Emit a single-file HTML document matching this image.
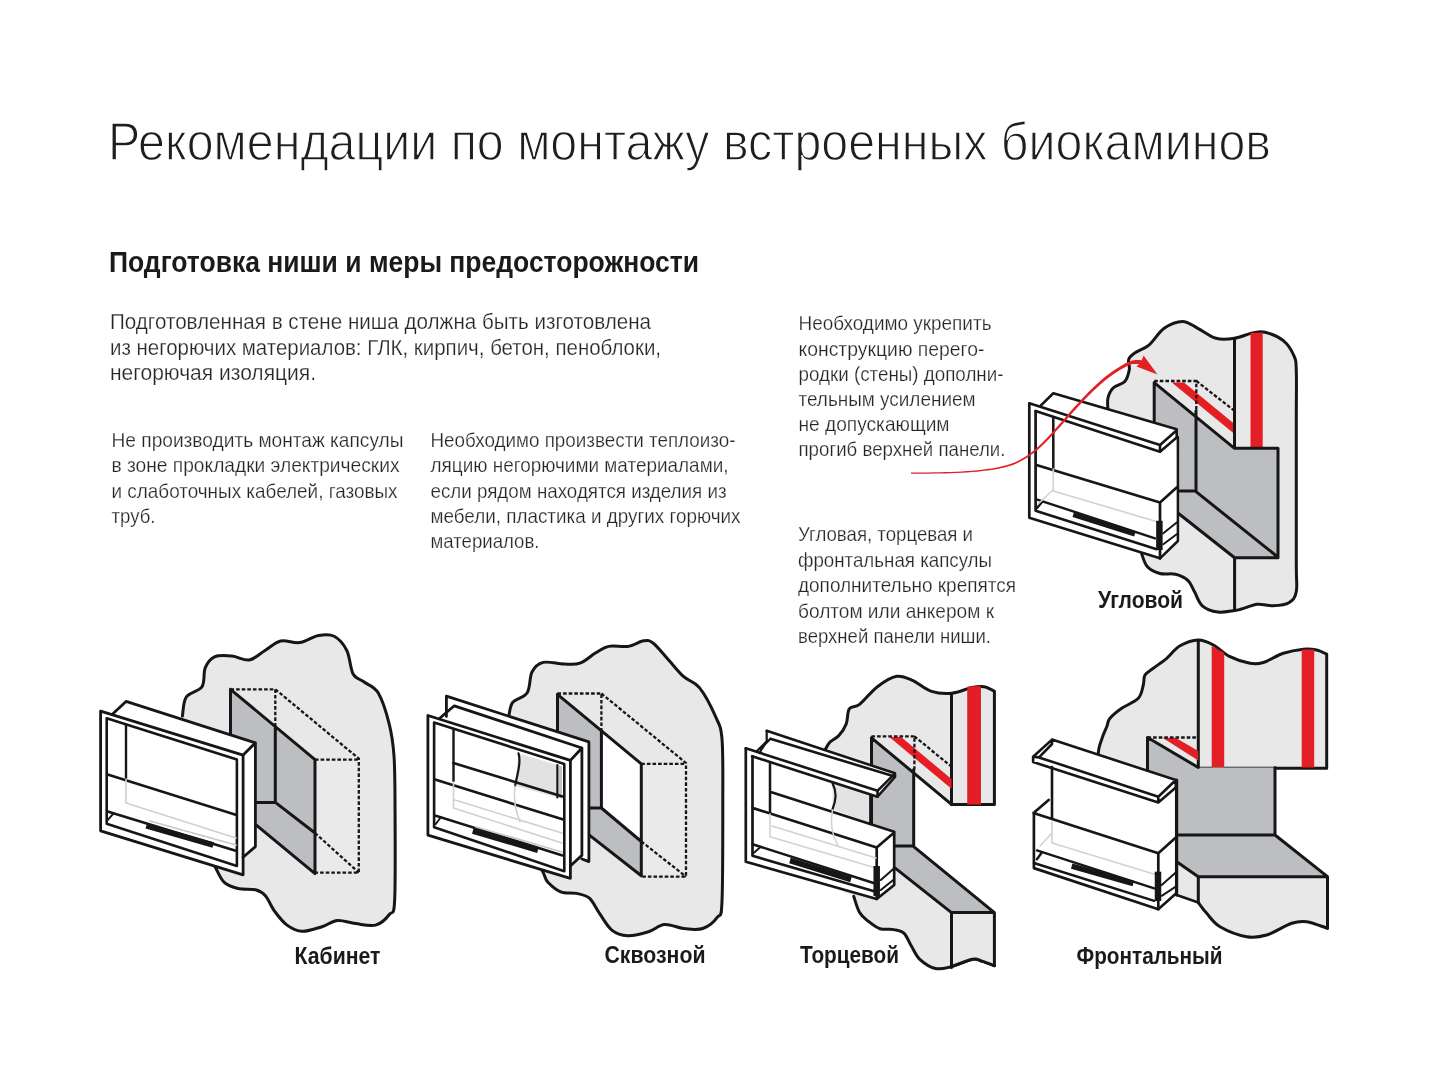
<!DOCTYPE html>
<html lang="ru">
<head>
<meta charset="utf-8">
<style>
html,body{margin:0;padding:0;background:#fff;}
body{width:1440px;height:1080px;overflow:hidden;position:relative;}
svg{position:absolute;left:0;top:0;}
.t{font-family:"Liberation Sans",sans-serif;}
#text{filter:grayscale(1);}
.title{font-size:53.5px;fill:#1e1e1e;stroke:#fff;stroke-width:1.3px;paint-order:normal;}
.sub{font-size:30px;font-weight:bold;fill:#1a1a1a;}
.p{font-size:21px;fill:#262626;stroke:#fff;stroke-width:0.25px;}
.p1{font-size:22.5px;}
.lab{font-size:24px;font-weight:bold;fill:#1a1a1a;}
</style>
</head>
<body>
<svg width="1440" height="1080" viewBox="0 0 1440 1080">
<g id="art">
<path d="M182.4,716 C183.1,712.8 183,701.9 186.3,697 C189.6,692.1 198.8,691.6 202,686.7 C205.2,681.8 203.1,672.8 205.2,667.8 C207.3,662.8 210.1,658.8 214.6,656.8 C219.1,654.8 226.2,655.5 232,656 C237.8,656.5 243.7,660.9 249.2,660 C254.7,659.1 259.8,653.7 265,650.5 C270.2,647.3 274.9,642.3 280.7,641 C286.5,639.7 293.3,643.5 299.6,642.6 C305.9,641.7 312.7,636.5 318.5,635.5 C324.3,634.5 329.5,633.8 334.2,636.3 C338.9,638.8 343.6,644.2 346.8,650.5 C350,656.8 350.2,668.8 353.1,674 C356,679.2 359.9,678.8 364.1,682 C368.3,685.2 374.1,685.9 378.3,693 C382.5,700.1 386.7,713.9 389.3,724.4 C391.9,734.9 393.1,743.4 394,756 C394.9,768.6 394.9,776.1 395,800 C395.1,823.9 395.6,880.1 394.7,899.2 C393.8,918.3 392.5,910.2 389.3,914.5 C386.1,918.8 381.2,923.6 375.6,925.1 C370,926.6 362.1,924.4 355.7,923.6 C349.3,922.9 343,920.1 337.4,920.6 C331.8,921.1 327.9,924.9 322,926.7 C316.1,928.5 308,931.6 302.2,931.3 C296.4,931 291.6,928.4 287,925.1 C282.4,921.8 278.3,916.2 274.7,911.4 C271.1,906.6 268.7,899.7 265.6,896.1 C262.6,892.5 261,891.3 256.4,890 C251.8,888.7 243.3,889.8 238,888.5 C232.7,887.2 227.9,885.5 224.3,882.4 C220.8,879.3 218.8,873.8 216.7,870.1 C214.6,866.4 212.8,861.7 212,860 L170,850 L170,730 Z" fill="#e8e8e8"/>
<path d="M182.4,716 C183.1,712.8 183,701.9 186.3,697 C189.6,692.1 198.8,691.6 202,686.7 C205.2,681.8 203.1,672.8 205.2,667.8 C207.3,662.8 210.1,658.8 214.6,656.8 C219.1,654.8 226.2,655.5 232,656 C237.8,656.5 243.7,660.9 249.2,660 C254.7,659.1 259.8,653.7 265,650.5 C270.2,647.3 274.9,642.3 280.7,641 C286.5,639.7 293.3,643.5 299.6,642.6 C305.9,641.7 312.7,636.5 318.5,635.5 C324.3,634.5 329.5,633.8 334.2,636.3 C338.9,638.8 343.6,644.2 346.8,650.5 C350,656.8 350.2,668.8 353.1,674 C356,679.2 359.9,678.8 364.1,682 C368.3,685.2 374.1,685.9 378.3,693 C382.5,700.1 386.7,713.9 389.3,724.4 C391.9,734.9 393.1,743.4 394,756 C394.9,768.6 394.9,776.1 395,800 C395.1,823.9 395.6,880.1 394.7,899.2 C393.8,918.3 392.5,910.2 389.3,914.5 C386.1,918.8 381.2,923.6 375.6,925.1 C370,926.6 362.1,924.4 355.7,923.6 C349.3,922.9 343,920.1 337.4,920.6 C331.8,921.1 327.9,924.9 322,926.7 C316.1,928.5 308,931.6 302.2,931.3 C296.4,931 291.6,928.4 287,925.1 C282.4,921.8 278.3,916.2 274.7,911.4 C271.1,906.6 268.7,899.7 265.6,896.1 C262.6,892.5 261,891.3 256.4,890 C251.8,888.7 243.3,889.8 238,888.5 C232.7,887.2 227.9,885.5 224.3,882.4 C220.8,879.3 218.8,873.8 216.7,870.1 C214.6,866.4 212.8,861.7 212,860" fill="none" stroke="#161616" stroke-width="3" stroke-linejoin="round" stroke-linecap="round"/>
<path d="M230.5,689.3 L315,759.6 L315,873.6 L256,824.8 L256,802.4 L230.5,802.4 Z" fill="#bdbec1"/>
<path d="M315,759.6 L358.8,758.6 L358.8,872.6 L315,873.6 Z" fill="#eaeaea"/>
<path d="M230.5,689.3 V802 M230.5,689.3 L315,759.6 V873.6 M275.3,728 V802.4 H256 M275.3,802.4 L315,833 M256,824.8 L315,873.6" fill="none" stroke="#161616" stroke-width="3" stroke-linejoin="round" stroke-linecap="round"/>
<path d="M230.5,689.3 H275.3 V728 M275.3,689.3 L358.8,758.6 V872.6 H315 M315,759.6 H358.8 M315,833 L358.8,872.6" fill="none" stroke="#161616" stroke-width="2.3" stroke-dasharray="3.6 2"/>
<path d="M100.6,711.1 L126,701.4 L255.4,742.8 L255.4,846.6 L243.1,857.2 L243.1,874.8 L100.6,830.8 Z" fill="#ffffff"/>
<path d="M112.9,713.8 L126,701.4 L255.4,742.8 V846.6 L243.1,857.2 M255.4,742.8 L243.1,755.1" fill="none" stroke="#161616" stroke-width="2.8" stroke-linejoin="round" stroke-linecap="round"/>
<path d="M100.6,711.1 L243.1,755.1 L243.1,874.8 L100.6,830.8 Z" fill="none" stroke="#161616" stroke-width="2.8" stroke-linejoin="round" stroke-linecap="round"/>
<path d="M106.7,718.2 L236.9,759.5 L236.9,866 L106.7,823.7 Z" fill="none" stroke="#161616" stroke-width="2.6" stroke-linejoin="round" stroke-linecap="round"/>
<path d="M126,725 V778" fill="none" stroke="#161616" stroke-width="2.4" stroke-linejoin="round" stroke-linecap="round"/>
<path d="M107.6,774.5 L236.5,815" fill="none" stroke="#161616" stroke-width="2.6" stroke-linejoin="round" stroke-linecap="round"/>
<path d="M107.6,811.4 L236.5,851" fill="none" stroke="#161616" stroke-width="2.6" stroke-linejoin="round" stroke-linecap="round"/>
<path d="M107.6,820.2 L113.8,813.2" fill="none" stroke="#161616" stroke-width="2" stroke-linejoin="round" stroke-linecap="round"/>
<path d="M126,779 V803 L236,838" fill="none" stroke="#cfcfcf" stroke-width="1.6" stroke-linejoin="round" stroke-linecap="round"/>
<path d="M150,821 L236,845" fill="none" stroke="#c8c8c8" stroke-width="1.8" stroke-linejoin="round" stroke-linecap="round"/>
<path d="M146.3,825.8 L213.2,845" fill="none" stroke="#161616" stroke-width="5.5" stroke-linejoin="round" stroke-linecap="butt"/>
<path d="M508.8,716 C509.5,713.7 509.7,706.2 512.8,702.3 C515.9,698.4 524,697.8 527.2,692.7 C530.4,687.7 529.4,677 532,672 C534.6,667 537.8,663.7 543.1,662.4 C548.4,661.1 557.8,663.9 563.9,664 C570,664.1 574.6,665.1 579.9,663.2 C585.2,661.3 591,655.6 595.8,652.8 C600.6,650 603.3,647.5 608.6,646.4 C613.9,645.3 621.9,647.3 627.8,646.4 C633.6,645.5 639.5,641.3 643.7,640.8 C648,640.3 649,639.9 653.3,643.2 C657.6,646.5 664.2,655.2 669.3,660.8 C674.4,666.4 678.7,672.2 683.7,676.7 C688.8,681.2 694.3,681.2 699.6,687.9 C704.9,694.6 711.9,708.2 715.6,716.7 C719.3,725.2 720.8,725.2 722,739 C723.2,752.8 722.8,772.6 722.8,799.7 C722.8,826.8 722.9,881.8 722,901.4 C721.1,921 720.4,912.9 717.2,917.4 C714,921.9 708.4,926.6 702.8,928.5 C697.2,930.4 690.1,929.2 683.7,928.5 C677.3,927.8 670.4,924 664.5,924.5 C658.6,925 654.6,929.8 648.5,931.7 C642.4,933.6 633.9,936 627.8,935.7 C621.7,935.4 616.6,934 611.8,930.1 C607,926.2 602.7,917.9 599,912.6 C595.3,907.3 593.1,901.4 589.4,898.2 C585.7,895 581.5,894.5 576.7,893.4 C571.9,892.3 565.5,893.7 560.7,891.8 C555.9,889.9 550.7,885.1 547.9,882.2 C545.1,879.3 545.2,876.9 543.9,874.2 C542.6,871.5 540.6,867.4 540,866 L500,850 L500,730 Z" fill="#e8e8e8"/>
<path d="M508.8,716 C509.5,713.7 509.7,706.2 512.8,702.3 C515.9,698.4 524,697.8 527.2,692.7 C530.4,687.7 529.4,677 532,672 C534.6,667 537.8,663.7 543.1,662.4 C548.4,661.1 557.8,663.9 563.9,664 C570,664.1 574.6,665.1 579.9,663.2 C585.2,661.3 591,655.6 595.8,652.8 C600.6,650 603.3,647.5 608.6,646.4 C613.9,645.3 621.9,647.3 627.8,646.4 C633.6,645.5 639.5,641.3 643.7,640.8 C648,640.3 649,639.9 653.3,643.2 C657.6,646.5 664.2,655.2 669.3,660.8 C674.4,666.4 678.7,672.2 683.7,676.7 C688.8,681.2 694.3,681.2 699.6,687.9 C704.9,694.6 711.9,708.2 715.6,716.7 C719.3,725.2 720.8,725.2 722,739 C723.2,752.8 722.8,772.6 722.8,799.7 C722.8,826.8 722.9,881.8 722,901.4 C721.1,921 720.4,912.9 717.2,917.4 C714,921.9 708.4,926.6 702.8,928.5 C697.2,930.4 690.1,929.2 683.7,928.5 C677.3,927.8 670.4,924 664.5,924.5 C658.6,925 654.6,929.8 648.5,931.7 C642.4,933.6 633.9,936 627.8,935.7 C621.7,935.4 616.6,934 611.8,930.1 C607,926.2 602.7,917.9 599,912.6 C595.3,907.3 593.1,901.4 589.4,898.2 C585.7,895 581.5,894.5 576.7,893.4 C571.9,892.3 565.5,893.7 560.7,891.8 C555.9,889.9 550.7,885.1 547.9,882.2 C545.1,879.3 545.2,876.9 543.9,874.2 C542.6,871.5 540.6,867.4 540,866" fill="none" stroke="#161616" stroke-width="3" stroke-linejoin="round" stroke-linecap="round"/>
<path d="M557.5,694.3 L601.4,730.7 L601.4,808 L589.4,808 L589.4,835.1 L641.3,875.8 L641.3,841.5 L601.4,808 L589,808 L557.5,808 Z" fill="#bdbec1"/>
<path d="M589.4,808 L601.4,808 L641.3,841.5 L641.3,875.8 L589.4,835.1 Z" fill="#bdbec1"/>
<path d="M601.4,730.7 L641.3,763.8 L641.3,841.5 L601.4,808 Z" fill="#ffffff"/>
<path d="M641.3,763.8 L686,763 L686,876.6 L641.3,875.8 Z" fill="#eaeaea"/>
<path d="M557.5,694.3 V780 M557.5,694.3 L641.3,763.8 V875.8 M601.4,730.7 V808 H589 M601.4,808 L641.3,841.5 M589.4,835.1 L641.3,875.8" fill="none" stroke="#161616" stroke-width="3" stroke-linejoin="round" stroke-linecap="round"/>
<path d="M557.5,693.5 H601.4 V730.7 M601.4,693.5 L686,763 V876.6 H641.3 M641.3,763.8 H686 M641.3,841.5 L686,876.6" fill="none" stroke="#161616" stroke-width="2.3" stroke-dasharray="3.6 2"/>
<path d="M446.4,696.2 L588.9,741.9 L588.9,861.6 L582,859 L570.4,868 L570.4,878.3 L427.9,835.2 L427.9,715.5 L446.4,716.4 Z" fill="#ffffff"/>
<path d="M446.4,716.4 V696.2 L588.9,741.9 V861.6 L582,859" fill="none" stroke="#161616" stroke-width="2.8" stroke-linejoin="round" stroke-linecap="round"/>
<path d="M440,718 L454.3,705.8 L581.9,748 V855.4 L570.4,866 M581.9,748 L570.4,760.4" fill="none" stroke="#161616" stroke-width="2.8" stroke-linejoin="round" stroke-linecap="round"/>
<path d="M427.9,715.5 L570.4,760.4 L570.4,878.3 L427.9,835.2 Z" fill="none" stroke="#161616" stroke-width="2.8" stroke-linejoin="round" stroke-linecap="round"/>
<path d="M434.1,722.6 L564.3,763.9 L564.3,871.2 L434.1,827.3 Z" fill="none" stroke="#161616" stroke-width="2.6" stroke-linejoin="round" stroke-linecap="round"/>
<path d="M518.5,753.3 L557.3,765 L557.3,797.5 L515,786 Z" fill="#e2e2e2"/>
<path d="M557.3,765 L562,766.3 L562,798.5 L557.3,797.5 Z" fill="#c4c4c4"/>
<path d="M453.5,730 V781" fill="none" stroke="#161616" stroke-width="2.4" stroke-linejoin="round" stroke-linecap="round"/>
<path d="M518.5,753.3 C521,762 518,772 515,786" fill="none" stroke="#161616" stroke-width="2.2" stroke-linejoin="round" stroke-linecap="round"/>
<path d="M557.3,765 V797.5" fill="none" stroke="#161616" stroke-width="2" stroke-linejoin="round" stroke-linecap="round"/>
<path d="M453.4,763 L562.5,796.5" fill="none" stroke="#161616" stroke-width="2.6" stroke-linejoin="round" stroke-linecap="round"/>
<path d="M435.8,779.7 L562.5,819.3" fill="none" stroke="#161616" stroke-width="2.6" stroke-linejoin="round" stroke-linecap="round"/>
<path d="M435.8,815.8 L562.5,855.4" fill="none" stroke="#161616" stroke-width="2.6" stroke-linejoin="round" stroke-linecap="round"/>
<path d="M435.8,824 L441,817" fill="none" stroke="#161616" stroke-width="2" stroke-linejoin="round" stroke-linecap="round"/>
<path d="M453.5,782 V808 L562,843 M455,800 L562,833" fill="none" stroke="#d0d0d0" stroke-width="1.6" stroke-linejoin="round" stroke-linecap="round"/>
<path d="M515,786 C513,800 516,812 520,822" fill="none" stroke="#d0d0d0" stroke-width="1.5" stroke-linejoin="round" stroke-linecap="round"/>
<path d="M476,827 L562,852" fill="none" stroke="#c8c8c8" stroke-width="1.8" stroke-linejoin="round" stroke-linecap="round"/>
<path d="M472.8,831 L537.9,850.3" fill="none" stroke="#161616" stroke-width="5.5" stroke-linejoin="round" stroke-linecap="butt"/>
<path d="M825,750 C825.8,748.7 827.7,744.4 830,742 C832.3,739.6 836.2,738.6 838.9,735.6 C841.6,732.6 844.6,728.2 846.3,723.7 C848,719.2 847.1,712.1 849.3,708.9 C851.5,705.7 854.9,708.1 859.6,704.4 C864.3,700.7 871.2,691.4 877.4,686.7 C883.6,682 890.8,677.3 896.7,676.3 C902.6,675.3 907.3,678.2 913,680.7 C918.7,683.2 924.3,689 930.7,691.1 C937.1,693.2 944.6,693.9 951.5,693.3 C958.4,692.7 966.8,688.5 972.2,687.4 C977.6,686.3 980.4,686.1 984.1,686.7 C987.8,687.3 992.7,690.4 994.4,691.1 L994.4,804.4 L951.5,804.4 L913.7,772.9 L913.7,846.7 L994.4,912.6 L994.4,965.7 C994.4,965.7 996.5,966.5 994.4,965.7 C992.3,964.9 985.5,962.2 981.9,961.1 C978.3,960 977.7,958.4 972.6,959.3 C967.5,960.2 957.5,965.2 951.3,966.7 C945.1,968.2 940.9,969.7 935.6,968.5 C930.4,967.3 923.8,963 919.8,959.3 C915.8,955.6 914.1,950.6 911.5,946.3 C908.9,942 907,936.1 904.1,933.3 C901.2,930.5 897.9,930.4 893.9,929.6 C889.9,928.8 884.3,930.1 880,928.7 C875.7,927.3 871.4,923.7 868,921 C864.6,918.3 862,916.7 859.6,912.6 C857.2,908.5 854.7,899 853.7,896.3 L820,880 L820,760 Z" fill="#e8e8e8"/>
<path d="M825,750 C825.8,748.7 827.7,744.4 830,742 C832.3,739.6 836.2,738.6 838.9,735.6 C841.6,732.6 844.6,728.2 846.3,723.7 C848,719.2 847.1,712.1 849.3,708.9 C851.5,705.7 854.9,708.1 859.6,704.4 C864.3,700.7 871.2,691.4 877.4,686.7 C883.6,682 890.8,677.3 896.7,676.3 C902.6,675.3 907.3,678.2 913,680.7 C918.7,683.2 924.3,689 930.7,691.1 C937.1,693.2 944.6,693.9 951.5,693.3 C958.4,692.7 966.8,688.5 972.2,687.4 C977.6,686.3 980.4,686.1 984.1,686.7 C987.8,687.3 992.7,690.4 994.4,691.1 V804.4 H951.5 V693.3" fill="none" stroke="#161616" stroke-width="3" stroke-linejoin="round" stroke-linecap="round"/>
<path d="M994.4,965.7 C992.3,964.9 985.5,962.2 981.9,961.1 C978.3,960 977.7,958.4 972.6,959.3 C967.5,960.2 957.5,965.2 951.3,966.7 C945.1,968.2 940.9,969.7 935.6,968.5 C930.4,967.3 923.8,963 919.8,959.3 C915.8,955.6 914.1,950.6 911.5,946.3 C908.9,942 907,936.1 904.1,933.3 C901.2,930.5 897.9,930.4 893.9,929.6 C889.9,928.8 884.3,930.1 880,928.7 C875.7,927.3 871.4,923.7 868,921 C864.6,918.3 862,916.7 859.6,912.6 C857.2,908.5 854.7,899 853.7,896.3" fill="none" stroke="#161616" stroke-width="3" stroke-linejoin="round" stroke-linecap="round"/>
<path d="M967.8,686.5 L980.4,686 L980.4,804.4 L967.8,804.4 Z" fill="#e31e25"/>
<path d="M967.8,688 V804.4 M980.4,687 V804.4" fill="none" stroke="#d91c22" stroke-width="1" stroke-linejoin="round" stroke-linecap="round"/>
<path d="M871.5,737.8 L913.7,772.9 L913.7,845.9 L895.2,845.9 L895.2,868.1 L951.5,912.6 L994.4,912.6 L913.7,845.9 L871.5,845.9 Z" fill="#bdbec1"/>
<path d="M889.3,737 L901.1,737 L951.5,779 L951.5,788.8 Z" fill="#e31e25"/>
<path d="M951.5,912.6 L994.4,912.6 L994.4,965.7 L981.9,961.1 L972.6,959.3 L951.3,966.7 Z" fill="#e8e8e8"/>
<path d="M871.5,737.8 V845.9 M871.5,737.8 L951.5,804.4 M913.7,769.6 V845.9 H895.2 M913.7,846.7 L994.4,912.6 V965.7 M895.2,868.1 L951.5,912.6 H994.4 M951.5,912.6 V967.6" fill="none" stroke="#161616" stroke-width="3" stroke-linejoin="round" stroke-linecap="round"/>
<path d="M994.4,965.7 C992.3,964.9 985.5,962.2 981.9,961.1 C978.3,960 977.7,958.4 972.6,959.3 C967.5,960.2 954.8,965.5 951.3,966.7" fill="none" stroke="#161616" stroke-width="3" stroke-linejoin="round" stroke-linecap="round"/>
<path d="M871.5,736.3 H914.4 V769.6 M914.4,736.3 L951.5,766.7" fill="none" stroke="#161616" stroke-width="2.3" stroke-dasharray="3.6 2"/>
<path d="M766.7,730.8 L895,773.3 L895,777 L877.5,796.7 L870.4,794 L870.4,824.2 L894.2,831.7 L894.2,885 L876.7,899 L746.2,861.7 L745.8,748.3 L756.7,751.3 Z" fill="#ffffff"/>
<path d="M832.5,783.3 L870.4,795 L870.4,823.3 L832.5,809.2 Z" fill="#e3e3e3"/>
<path d="M832.5,783.3 C837,792 836,801 832.5,809.2" fill="none" stroke="#161616" stroke-width="2.2" stroke-linejoin="round" stroke-linecap="round"/>
<path d="M766.7,730.8 L895,773.3 V777 L877.5,796.7 M770.4,738.8 L893,776 M877.5,790.8 L895,773.3" fill="none" stroke="#161616" stroke-width="2.6" stroke-linejoin="round" stroke-linecap="round"/>
<path d="M745.8,748.3 L877.5,790.8 V796.7 M752.1,756.25 L877.5,796.7" fill="none" stroke="#161616" stroke-width="2.6" stroke-linejoin="round" stroke-linecap="round"/>
<path d="M766.7,730.8 V741.3 Q762,746 756.7,751.3 M770.4,738.8 Q764,744 759.5,753" fill="none" stroke="#161616" stroke-width="2.2" stroke-linejoin="round" stroke-linecap="round"/>
<path d="M745.8,748.3 V861.7 L876.7,899 M752.5,756.25 V855.8 L876.7,892" fill="none" stroke="#161616" stroke-width="2.7" stroke-linejoin="round" stroke-linecap="round"/>
<path d="M770,763.3 V812.5 M770,791.7 L894.2,831.7 M870.4,795 V824.2" fill="none" stroke="#161616" stroke-width="2.5" stroke-linejoin="round" stroke-linecap="round"/>
<path d="M752.5,807.9 L876.7,847.5 L894.2,832.5 M876.7,847.5 V899 M894.2,832.5 V885 L876.7,899" fill="none" stroke="#161616" stroke-width="2.7" stroke-linejoin="round" stroke-linecap="round"/>
<path d="M752.5,844.2 L876.7,884" fill="none" stroke="#161616" stroke-width="2.5" stroke-linejoin="round" stroke-linecap="round"/>
<path d="M753.3,853.3 L760,847.5" fill="none" stroke="#161616" stroke-width="2" stroke-linejoin="round" stroke-linecap="round"/>
<path d="M770,814 V836.7 L876,868 M772,826 L876,858" fill="none" stroke="#d2d2d2" stroke-width="1.6" stroke-linejoin="round" stroke-linecap="round"/>
<path d="M832.5,810 C830,822 832,835 838,846" fill="none" stroke="#d2d2d2" stroke-width="1.5" stroke-linejoin="round" stroke-linecap="round"/>
<path d="M790,860.5 L851,879.5" fill="none" stroke="#161616" stroke-width="5.5" stroke-linejoin="round" stroke-linecap="butt"/>
<path d="M876.7,866 V896" fill="none" stroke="#161616" stroke-width="6.5" stroke-linejoin="round" stroke-linecap="butt"/>
<path d="M880.8,880 L894.2,868.3 M880.8,890 L894.2,879.2" fill="none" stroke="#161616" stroke-width="2" stroke-linejoin="round" stroke-linecap="round"/>
<path d="M1097.8,758.5 C1098,756.8 1098.2,751.6 1099,748 C1099.8,744.4 1101.2,740.7 1102.5,737 C1103.8,733.3 1105.8,729.1 1107,726 C1108.2,722.9 1107.5,721.2 1110,718.3 C1112.5,715.3 1117,711.6 1121.7,708.3 C1126.4,705 1134.7,702.2 1138.3,698.3 C1141.9,694.4 1142.2,688.9 1143.3,685 C1144.4,681.1 1143.3,677.8 1145,675 C1146.7,672.2 1149.7,671.1 1153.3,668.3 C1156.9,665.5 1162.2,662 1166.7,658.3 C1171.2,654.5 1174.7,648.8 1180,645.8 C1185.3,642.8 1192.8,640.1 1198.3,640 C1203.8,639.9 1208,642.2 1213.3,645 C1218.6,647.8 1223.9,653.7 1230,656.7 C1236.1,659.8 1244.5,662.3 1250,663.3 C1255.5,664.3 1257.8,664.2 1263.3,662.5 C1268.8,660.8 1276.6,655.5 1283.3,653.3 C1290,651.1 1297.7,649.8 1303.3,649.2 C1308.9,648.7 1312.8,649.2 1316.7,650 C1320.6,650.8 1325,653.5 1326.7,654.2 L1326.7,768.3 L1275,767.5 L1275,835 L1327.5,876.7 L1327.5,928.3 C1327.5,928.3 1331,929.4 1327.5,928.3 C1324,927.2 1312.7,922.5 1306.7,921.7 C1300.7,920.9 1298.4,921.1 1291.7,923.3 C1285,925.5 1274.2,932.8 1266.7,935 C1259.2,937.2 1254.5,938.1 1246.7,936.7 C1238.9,935.3 1226.7,930.6 1220,926.7 C1213.3,922.8 1210.3,917.3 1206.7,913.3 C1203.1,909.3 1199.7,904.3 1198.3,902.5 L1176.7,895 L1150,880 L1090,800 Z" fill="#e8e8e8"/>
<path d="M1097.8,758.5 C1098,756.8 1098.2,751.6 1099,748 C1099.8,744.4 1101.2,740.7 1102.5,737 C1103.8,733.3 1105.8,729.1 1107,726 C1108.2,722.9 1107.5,721.2 1110,718.3 C1112.5,715.3 1117,711.6 1121.7,708.3 C1126.4,705 1134.7,702.2 1138.3,698.3 C1141.9,694.4 1142.2,688.9 1143.3,685 C1144.4,681.1 1143.3,677.8 1145,675 C1146.7,672.2 1149.7,671.1 1153.3,668.3 C1156.9,665.5 1162.2,662 1166.7,658.3 C1171.2,654.5 1174.7,648.8 1180,645.8 C1185.3,642.8 1192.8,640.1 1198.3,640 C1203.8,639.9 1208,642.2 1213.3,645 C1218.6,647.8 1223.9,653.7 1230,656.7 C1236.1,659.8 1244.5,662.3 1250,663.3 C1255.5,664.3 1257.8,664.2 1263.3,662.5 C1268.8,660.8 1276.6,655.5 1283.3,653.3 C1290,651.1 1297.7,649.8 1303.3,649.2 C1308.9,648.7 1312.8,649.2 1316.7,650 C1320.6,650.8 1325,653.5 1326.7,654.2 V768.3 H1198.3 V640" fill="none" stroke="#161616" stroke-width="3" stroke-linejoin="round" stroke-linecap="round"/>
<path d="M1211.7,646 L1224.2,653 L1224.2,767.5 L1211.7,767.5 Z" fill="#e31e25"/>
<path d="M1301.7,649.5 L1314.2,649.5 L1314.2,767.5 L1301.7,767.5 Z" fill="#e31e25"/>
<path d="M1147.5,737.5 L1198.3,767.5 L1275,767.5 L1275,835 L1327.5,876.7 L1198.3,876.7 L1176.7,861.7 L1147.5,861.7 Z" fill="#bdbec1"/>
<path d="M1162.5,737.8 L1175.5,737.8 L1198.3,751 L1198.3,760.5 Z" fill="#e31e25"/>
<path d="M1176.7,861.7 L1198.3,876.7 L1198.3,902.5 L1176.7,895 Z" fill="#e8e8e8"/>
<path d="M1097.8,758.5 C1098,756.8 1098.2,751.6 1099,748 C1099.8,744.4 1101.2,740.7 1102.5,737 C1103.8,733.3 1105.8,729.1 1107,726 C1108.2,722.9 1107.5,721.2 1110,718.3 C1112.5,715.3 1117,711.6 1121.7,708.3 C1126.4,705 1134.7,702.2 1138.3,698.3 C1141.9,694.4 1142.2,688.9 1143.3,685 C1144.4,681.1 1143.3,677.8 1145,675 C1146.7,672.2 1149.7,671.1 1153.3,668.3 C1156.9,665.5 1162.2,662 1166.7,658.3 C1171.2,654.5 1174.7,648.8 1180,645.8 C1185.3,642.8 1192.8,640.1 1198.3,640 C1203.8,639.9 1208,642.2 1213.3,645 C1218.6,647.8 1223.9,653.7 1230,656.7 C1236.1,659.8 1244.5,662.3 1250,663.3 C1255.5,664.3 1257.8,664.2 1263.3,662.5 C1268.8,660.8 1276.6,655.5 1283.3,653.3 C1290,651.1 1297.7,649.8 1303.3,649.2 C1308.9,648.7 1312.8,649.2 1316.7,650 C1320.6,650.8 1325,653.5 1326.7,654.2 L1326.7,768.3 L1275,767.5 L1275,835 L1327.5,876.7 L1327.5,928.3 C1327.5,928.3 1331,929.4 1327.5,928.3 C1324,927.2 1312.7,922.5 1306.7,921.7 C1300.7,920.9 1298.4,921.1 1291.7,923.3 C1285,925.5 1274.2,932.8 1266.7,935 C1259.2,937.2 1254.5,938.1 1246.7,936.7 C1238.9,935.3 1226.7,930.6 1220,926.7 C1213.3,922.8 1210.3,917.3 1206.7,913.3 C1203.1,909.3 1199.7,904.3 1198.3,902.5 L1176.7,895 L1150,880 L1090,800 Z" fill="none"/>
<path d="M1147.5,737.5 V790 M1147.5,737.5 L1198.3,767.5 M1275,767.5 V835 H1176.7 M1275,835 L1327.5,876.7 V928.3 M1198.3,876.7 H1327.5 M1176.7,861.7 L1198.3,876.7 V902.5 M1176.7,780 V895" fill="none" stroke="#161616" stroke-width="3" stroke-linejoin="round" stroke-linecap="round"/>
<path d="M1327.5,928.3 C1324,927.2 1312.7,922.5 1306.7,921.7 C1300.7,920.9 1298.4,921.1 1291.7,923.3 C1285,925.5 1274.2,932.8 1266.7,935 C1259.2,937.2 1254.5,938.1 1246.7,936.7 C1238.9,935.3 1226.7,930.6 1220,926.7 C1213.3,922.8 1210.3,917.3 1206.7,913.3 C1203.1,909.3 1199.7,904.3 1198.3,902.5" fill="none" stroke="#161616" stroke-width="3" stroke-linejoin="round" stroke-linecap="round"/>
<path d="M1176.7,895 L1198.3,902.5" fill="none" stroke="#161616" stroke-width="2.6" stroke-linejoin="round" stroke-linecap="round"/>
<path d="M1147.5,737.5 H1198.3" fill="none" stroke="#161616" stroke-width="2.3" stroke-dasharray="3.6 2"/>
<path d="M1052,739.6 L1175.8,780 L1176.2,893.3 L1158.3,909.2 L1033.9,868.1 L1033.5,813 L1048.7,800 L1052,802 L1033.1,762.5 L1033.1,756.7 Z" fill="#ffffff"/>
<path d="M1052,739.6 L1175.8,780 V787.5 L1158.3,802.5 L1033.1,762 V756.7 L1052,739.6 V744 L1039,757.4 L1158.3,796.7 L1175.8,780 M1033.1,756.7 L1039,757.4 M1158.3,796.7 V802.5" fill="none" stroke="#161616" stroke-width="2.6" stroke-linejoin="round" stroke-linecap="round"/>
<path d="M1052,767 V818.5 M1176.25,787 V893.3 L1158.3,909.2" fill="none" stroke="#161616" stroke-width="2.6" stroke-linejoin="round" stroke-linecap="round"/>
<path d="M1033.5,813 L1048.7,800 M1033.5,813 L1158.3,853.3 L1175.8,837.5 M1158.3,853.3 V909.2 L1033.9,868.1 V813" fill="none" stroke="#161616" stroke-width="2.7" stroke-linejoin="round" stroke-linecap="round"/>
<path d="M1036.9,850.4 L1154.2,888.3 M1033.9,863 L1154.2,900.8 M1036.9,859.3 L1041.3,853.3" fill="none" stroke="#161616" stroke-width="2.4" stroke-linejoin="round" stroke-linecap="round"/>
<path d="M1052,822 V843 L1157,875 M1040,846 L1052,833" fill="none" stroke="#d2d2d2" stroke-width="1.6" stroke-linejoin="round" stroke-linecap="round"/>
<path d="M1071.7,866.2 L1133.3,883.5" fill="none" stroke="#161616" stroke-width="5.5" stroke-linejoin="round" stroke-linecap="butt"/>
<path d="M1158,871.7 V901" fill="none" stroke="#161616" stroke-width="6.5" stroke-linejoin="round" stroke-linecap="butt"/>
<path d="M1161.7,885 L1175.8,872.5 M1161.7,895.8 L1175.8,886.7" fill="none" stroke="#161616" stroke-width="2" stroke-linejoin="round" stroke-linecap="round"/>
<path d="M1108,412 C1108,409.7 1107.1,402.3 1107.9,398.3 C1108.8,394.3 1110.3,390.8 1113.1,388 C1115.9,385.2 1122.1,384.5 1124.8,381.5 C1127.5,378.5 1128.6,373.5 1129.3,369.8 C1130,366.1 1127.7,362.2 1128.7,359.4 C1129.7,356.6 1131.7,355.2 1135.1,352.8 C1138.5,350.4 1144.1,349.2 1148.9,345.1 C1153.8,341 1158.6,332.2 1164.2,328.3 C1169.8,324.4 1176.9,321.5 1182.5,321.5 C1188.1,321.5 1192.2,325.5 1197.8,328.3 C1203.4,331.1 1210,336.6 1216.1,338.3 C1222.2,340 1228.4,339.2 1234.5,338.3 C1240.6,337.4 1247.7,333.9 1252.8,332.9 C1257.9,331.9 1259.9,330.9 1265,332.2 C1270.1,333.5 1278.5,336.7 1283.3,340.6 C1288.1,344.5 1291.8,350.7 1294,355.8 C1296.2,360.9 1295.9,360.4 1296.3,371.1 C1296.7,381.8 1296.3,388.5 1296.3,420 C1296.3,451.5 1296.3,531.4 1296.3,560 C1296.3,588.6 1297.5,584.5 1296.3,591.6 C1295.1,598.7 1292.8,600.3 1288.9,602.7 C1285,605.1 1278.3,605.5 1273.1,605.8 C1267.8,606 1262.7,603.7 1257.4,604.2 C1252.2,604.7 1245.4,608 1241.6,609 C1237.8,610 1238.5,610 1234.6,610.5 C1230.7,611 1223.4,612.9 1218,612.1 C1212.6,611.3 1206.2,609.2 1202.3,605.8 C1198.4,602.4 1196.8,595.8 1194.4,591.6 C1192,587.4 1191.2,583.5 1188.1,580.6 C1184.9,577.7 1180.2,575.5 1175.5,574.3 C1170.8,573.1 1164.5,574.8 1159.8,573.5 C1155.1,572.2 1150.2,569.8 1147.2,566.5 C1144.2,563.2 1142.6,556 1141.7,553.9 L1130,540 L1100,460 Z" fill="#e8e8e8"/>
<path d="M1108,412 C1108,409.7 1107.1,402.3 1107.9,398.3 C1108.8,394.3 1110.3,390.8 1113.1,388 C1115.9,385.2 1122.1,384.5 1124.8,381.5 C1127.5,378.5 1128.6,373.5 1129.3,369.8 C1130,366.1 1127.7,362.2 1128.7,359.4 C1129.7,356.6 1131.7,355.2 1135.1,352.8 C1138.5,350.4 1144.1,349.2 1148.9,345.1 C1153.8,341 1158.6,332.2 1164.2,328.3 C1169.8,324.4 1176.9,321.5 1182.5,321.5 C1188.1,321.5 1192.2,325.5 1197.8,328.3 C1203.4,331.1 1210,336.6 1216.1,338.3 C1222.2,340 1228.4,339.2 1234.5,338.3 C1240.6,337.4 1247.7,333.9 1252.8,332.9 C1257.9,331.9 1259.9,330.9 1265,332.2 C1270.1,333.5 1278.5,336.7 1283.3,340.6 C1288.1,344.5 1291.8,350.7 1294,355.8 C1296.2,360.9 1295.9,360.4 1296.3,371.1 C1296.7,381.8 1296.3,388.5 1296.3,420 C1296.3,451.5 1296.3,531.4 1296.3,560 C1296.3,588.6 1297.5,584.5 1296.3,591.6 C1295.1,598.7 1292.8,600.3 1288.9,602.7 C1285,605.1 1278.3,605.5 1273.1,605.8 C1267.8,606 1262.7,603.7 1257.4,604.2 C1252.2,604.7 1245.4,608 1241.6,609 C1237.8,610 1238.5,610 1234.6,610.5 C1230.7,611 1223.4,612.9 1218,612.1 C1212.6,611.3 1206.2,609.2 1202.3,605.8 C1198.4,602.4 1196.8,595.8 1194.4,591.6 C1192,587.4 1191.2,583.5 1188.1,580.6 C1184.9,577.7 1180.2,575.5 1175.5,574.3 C1170.8,573.1 1164.5,574.8 1159.8,573.5 C1155.1,572.2 1150.2,569.8 1147.2,566.5 C1144.2,563.2 1142.6,556 1141.7,553.9" fill="none" stroke="#161616" stroke-width="3" stroke-linejoin="round" stroke-linecap="round"/>
<path d="M1250.5,333 L1262.7,332.5 L1262.7,448.3 L1250.5,448.3 Z" fill="#e31e25"/>
<path d="M1154.2,382.6 L1234.5,448.3 L1278,448.3 L1278,557.8 L1234.6,557.8 L1177.9,513 L1154.2,513 Z" fill="#bdbec1"/>
<path d="M1171.8,382.6 L1184,382.6 L1234.5,423.9 L1234.5,433.9 Z" fill="#e31e25"/>
<path d="M1154.2,382.6 V510 M1154.2,382.6 L1234.5,448.3 H1278 V557.8 H1234.6 V610.5 M1234.5,338.3 V448.3 M1196,410.8 V490.9 H1177.9 M1196,491.7 L1277.8,557 M1177.9,513 L1234.6,557.8" fill="none" stroke="#161616" stroke-width="3" stroke-linejoin="round" stroke-linecap="round"/>
<path d="M1154.2,381 H1196.3 V410.8 M1196.3,381 L1234.5,410.8" fill="none" stroke="#161616" stroke-width="2.3" stroke-dasharray="3.6 2"/>
<path d="M1053.3,393.3 L1176.7,429.2 L1177.9,541 L1160,558.3 L1029.3,517.8 L1029.3,403.3 L1040.7,405.6 Z" fill="#ffffff"/>
<path d="M1053.3,393.3 L1176.7,429.2 V437.5 L1160,451.7 M1053.3,393.3 L1040.7,405.6 M1160,445 L1175,431.7" fill="none" stroke="#161616" stroke-width="2.6" stroke-linejoin="round" stroke-linecap="round"/>
<path d="M1029.3,403.3 L1160,445 V451.7 M1035.6,411.1 L1160,451.7" fill="none" stroke="#161616" stroke-width="2.6" stroke-linejoin="round" stroke-linecap="round"/>
<path d="M1029.3,403.3 V517.8 L1160,558.3 M1035.6,411.1 V510.8 L1156.7,549.2" fill="none" stroke="#161616" stroke-width="2.7" stroke-linejoin="round" stroke-linecap="round"/>
<path d="M1053.3,417 V468 M1177.9,437 V541 L1160,558.3" fill="none" stroke="#161616" stroke-width="2.5" stroke-linejoin="round" stroke-linecap="round"/>
<path d="M1036.4,465 L1160,502.5 L1176.7,487.5 M1160,502.5 V558.3" fill="none" stroke="#161616" stroke-width="2.7" stroke-linejoin="round" stroke-linecap="round"/>
<path d="M1036.4,499.3 L1155,538.3 M1037,508 L1042,502" fill="none" stroke="#161616" stroke-width="2.4" stroke-linejoin="round" stroke-linecap="round"/>
<path d="M1053.3,469 V491 L1158,522 M1038,504 L1053,490" fill="none" stroke="#d2d2d2" stroke-width="1.6" stroke-linejoin="round" stroke-linecap="round"/>
<path d="M1073.3,514.5 L1135,533.8" fill="none" stroke="#161616" stroke-width="5.5" stroke-linejoin="round" stroke-linecap="butt"/>
<path d="M1159.4,520.8 V550" fill="none" stroke="#161616" stroke-width="6.5" stroke-linejoin="round" stroke-linecap="butt"/>
<path d="M1163.3,533.3 L1176.7,522.5 M1163.3,544.2 L1176.7,534.2" fill="none" stroke="#161616" stroke-width="2" stroke-linejoin="round" stroke-linecap="round"/>
<path d="M911,473.8 L916.8,473.8 L922.7,473.8 L928.4,473.7 L934.2,473.6 L939.9,473.5 L945.5,473.4 L951,473.2 L956.5,473 L961.9,472.8 L967.2,472.5 L972.3,472.1 L977.4,471.7 L982.3,471.1 L987.1,470.6 L991.7,469.9 L996.2,469.2 L1000.5,468.3 L1004.6,467.4 L1008.5,466.3 L1012.3,465.2 L1015.4,463.9 L1018.4,462.5 L1021.2,461 L1024,459.5 L1026.6,457.9 L1029.2,456.3 L1031.6,454.5 L1034.1,452.7 L1036.4,450.8 L1038.8,448.8 L1041.1,446.7 L1043.4,444.5 L1045.7,442.2 L1048,439.9 L1050.3,437.4 L1052.7,434.9 L1055.1,432.3 L1057.6,429.5 L1060.2,426.7 L1062.8,423.7 L1066,420.2 L1069.1,416.6 L1072.2,413.1 L1075.3,409.7 L1078.4,406.3 L1081.5,403 L1084.6,399.7 L1087.7,396.5 L1090.8,393.4 L1094,390.3 L1097.2,387.4 L1100.4,384.5 L1103.6,381.7 L1107,379.1 L1110.3,376.5 L1113.8,374 L1117.3,371.7 L1120.8,369.5 L1124.5,367.4 L1128.2,365.4 L1128.8,365.1 L1129.3,364.9 L1129.8,364.7 L1130.3,364.6 L1130.9,364.4 L1131.5,364.3 L1132.1,364.2 L1132.7,364.1 L1133.3,364 L1134,363.9 L1134.7,363.9 L1135.4,363.9 L1136.1,363.9 L1136.8,363.9 L1137.6,364 L1138.4,364.1 L1139.2,364.2 L1140,364.3 L1140.8,364.4 L1141.7,364.6 L1142.3,360.4 L1141.4,360.3 L1140.5,360.2 L1139.6,360.1 L1138.7,360.1 L1137.8,360.1 L1136.9,360.1 L1136.1,360.1 L1135.2,360.1 L1134.4,360.2 L1133.6,360.3 L1132.8,360.4 L1132.1,360.6 L1131.3,360.7 L1130.6,360.9 L1129.9,361.2 L1129.2,361.4 L1128.6,361.7 L1127.9,362 L1127.3,362.3 L1126.8,362.6 L1123,364.7 L1119.3,366.9 L1115.6,369.2 L1112.1,371.6 L1108.6,374.2 L1105.2,376.8 L1101.8,379.6 L1098.6,382.4 L1095.3,385.4 L1092.1,388.4 L1089,391.5 L1085.9,394.7 L1082.8,398 L1079.7,401.3 L1076.6,404.7 L1073.5,408.1 L1070.5,411.6 L1067.4,415.1 L1064.3,418.7 L1061.2,422.3 L1058.5,425.2 L1056,428.1 L1053.5,430.8 L1051.1,433.5 L1048.8,436 L1046.5,438.5 L1044.2,440.8 L1042,443.1 L1039.7,445.3 L1037.5,447.3 L1035.2,449.3 L1032.9,451.2 L1030.6,453.1 L1028.2,454.8 L1025.7,456.5 L1023.1,458 L1020.4,459.6 L1017.7,461 L1014.7,462.4 L1011.7,463.6 L1008.1,464.8 L1004.2,465.8 L1000.1,466.8 L995.9,467.7 L991.5,468.4 L986.9,469.1 L982.1,469.7 L977.2,470.2 L972.2,470.7 L967.1,471.1 L961.8,471.4 L956.5,471.7 L951,471.9 L945.5,472.1 L939.8,472.2 L934.2,472.3 L928.4,472.4 L922.7,472.5 L916.8,472.5 L911,472.6 Z" fill="#e31e25"/>
<path d="M1157.5,374.5 L1143.6,355.5 L1141,362.5 L1136.5,366.5 Z" fill="#e31e25"/>
</g>
<g class="t" id="text">
<text class="title" x="108" y="160" textLength="1163" lengthAdjust="spacingAndGlyphs">Рекомендации по монтажу встроенных биокаминов</text>
<text class="sub" x="109" y="271.5" textLength="590" lengthAdjust="spacingAndGlyphs">Подготовка ниши и меры предосторожности</text>

<text class="p p1" x="110" y="329.4" textLength="541" lengthAdjust="spacingAndGlyphs">Подготовленная в стене ниша должна быть изготовлена</text>
<text class="p p1" x="110" y="354.8" textLength="551" lengthAdjust="spacingAndGlyphs">из негорючих материалов: ГЛК, кирпич, бетон, пеноблоки,</text>
<text class="p p1" x="110" y="380.2" textLength="206" lengthAdjust="spacingAndGlyphs">негорючая изоляция.</text>

<text class="p" x="111.5" y="447.1" textLength="292" lengthAdjust="spacingAndGlyphs">Не производить монтаж капсулы</text>
<text class="p" x="111.5" y="472.4" textLength="288" lengthAdjust="spacingAndGlyphs">в зоне прокладки электрических</text>
<text class="p" x="111.5" y="497.6" textLength="286" lengthAdjust="spacingAndGlyphs">и слаботочных кабелей, газовых</text>
<text class="p" x="111.5" y="522.9" textLength="44" lengthAdjust="spacingAndGlyphs">труб.</text>

<text class="p" x="430.5" y="447.1" textLength="305" lengthAdjust="spacingAndGlyphs">Необходимо произвести теплоизо-</text>
<text class="p" x="430.5" y="472.4" textLength="298" lengthAdjust="spacingAndGlyphs">ляцию негорючими материалами,</text>
<text class="p" x="430.5" y="497.7" textLength="296" lengthAdjust="spacingAndGlyphs">если рядом находятся изделия из</text>
<text class="p" x="430.5" y="523.0" textLength="310" lengthAdjust="spacingAndGlyphs">мебели, пластика и других горючих</text>
<text class="p" x="430.5" y="548.3" textLength="109" lengthAdjust="spacingAndGlyphs">материалов.</text>

<text class="p" x="798.5" y="330.3" textLength="193" lengthAdjust="spacingAndGlyphs">Необходимо укрепить</text>
<text class="p" x="798.5" y="355.5" textLength="186" lengthAdjust="spacingAndGlyphs">конструкцию перего-</text>
<text class="p" x="798.5" y="380.7" textLength="205" lengthAdjust="spacingAndGlyphs">родки (стены) дополни-</text>
<text class="p" x="798.5" y="406.0" textLength="177" lengthAdjust="spacingAndGlyphs">тельным усилением</text>
<text class="p" x="798.5" y="431.2" textLength="151" lengthAdjust="spacingAndGlyphs">не допускающим</text>
<text class="p" x="798.5" y="456.4" textLength="207" lengthAdjust="spacingAndGlyphs">прогиб верхней панели.</text>

<text class="p" x="798" y="541.4" textLength="175" lengthAdjust="spacingAndGlyphs">Угловая, торцевая и</text>
<text class="p" x="798" y="566.9" textLength="194" lengthAdjust="spacingAndGlyphs">фронтальная капсулы</text>
<text class="p" x="798" y="592.3" textLength="218" lengthAdjust="spacingAndGlyphs">дополнительно крепятся</text>
<text class="p" x="798" y="617.8" textLength="196" lengthAdjust="spacingAndGlyphs">болтом или анкером к</text>
<text class="p" x="798" y="643.3" textLength="193" lengthAdjust="spacingAndGlyphs">верхней панели ниши.</text>

<text class="lab" x="1098" y="607.5" textLength="85" lengthAdjust="spacingAndGlyphs">Угловой</text>
<text class="lab" x="294.5" y="963.7" textLength="86" lengthAdjust="spacingAndGlyphs">Кабинет</text>
<text class="lab" x="604.5" y="963.3" textLength="101" lengthAdjust="spacingAndGlyphs">Сквозной</text>
<text class="lab" x="800" y="963.3" textLength="99" lengthAdjust="spacingAndGlyphs">Торцевой</text>
<text class="lab" x="1076.5" y="963.5" textLength="146" lengthAdjust="spacingAndGlyphs">Фронтальный</text>
</g>
</svg>
</body>
</html>
